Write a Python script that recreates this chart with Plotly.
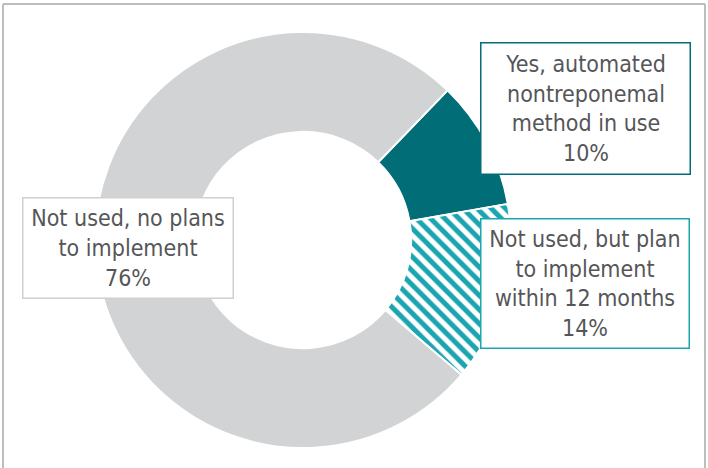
import plotly.graph_objects as go

# Survey responses: use of automated nontreponemal testing
categories = [
    "Yes, automated nontreponemal method in use",
    "Not used, but plan to implement within 12 months",
    "Not used, no plans to implement",
]
shares = [10, 14, 76]

box_labels = [
    "Yes, automated<br>nontreponemal<br>method in use<br>10%",
    "Not used, but plan<br>to implement<br>within 12 months<br>14%",
    "Not used, no plans<br>to implement<br>76%",
]

DARK_TEAL = "#006D77"
TEAL = "#1AA5B0"
GRAY = "#D1D3D4"
TEXT = "#555658"
FONT = "DejaVu Sans Condensed, Roboto, sans-serif"

W, H = 708, 468

fig = go.Figure(
    go.Pie(
        labels=categories,
        values=shares,
        sort=False,
        direction="clockwise",
        rotation=44,
        hole=0.52,
        textinfo="none",
        hoverinfo="skip",
        showlegend=False,
        marker=dict(
            colors=[DARK_TEAL, TEAL, GRAY],
            line=dict(color="white", width=2),
            pattern=dict(
                shape=["", "\\", ""],
                fgcolor=[DARK_TEAL, TEAL, GRAY],
                bgcolor=[DARK_TEAL, "white", GRAY],
                size=10,
                solidity=0.5,
            ),
        ),
        domain=dict(x=[95 / W, 511 / W], y=[1 - 448 / H, 1 - 32 / H]),
    )
)


def px_x(v):
    return v / W


def px_y(v):
    return 1 - v / H


# Callout boxes: (center x, center y, width, height, border colour)
boxes = [
    (585, 108, 208, 130, DARK_TEAL),
    (584.5, 283, 207, 128, TEAL),
    (127.5, 247.5, 209, 99, "#CFCFCF"),
]

for text, (cx, cy, bw, bh, col) in zip(box_labels, boxes):
    fig.add_annotation(
        x=px_x(cx), y=px_y(cy), xref="paper", yref="paper",
        xanchor="center", yanchor="middle",
        text=text, showarrow=False, align="center", valign="middle",
        width=bw, height=bh, borderpad=0,
        bordercolor=col, borderwidth=1.5, bgcolor="white",
        font=dict(family=FONT, size=23, color=TEXT),
    )

# Outer frame (left, top, right edges)
frame = dict(color="#BDBDBD", width=2)
fig.add_shape(type="line", xref="paper", yref="paper",
              x0=px_x(3), x1=px_x(3), y0=0, y1=px_y(4), line=frame)
fig.add_shape(type="line", xref="paper", yref="paper",
              x0=px_x(3), x1=px_x(705), y0=px_y(4), y1=px_y(4), line=frame)
fig.add_shape(type="line", xref="paper", yref="paper",
              x0=px_x(705), x1=px_x(705), y0=0, y1=px_y(4), line=frame)

fig.update_layout(
    width=W, height=H,
    margin=dict(l=0, r=0, t=0, b=0),
    paper_bgcolor="white",
    plot_bgcolor="white",
)

fig.write_html("out.html", config={"displayModeBar": False})
